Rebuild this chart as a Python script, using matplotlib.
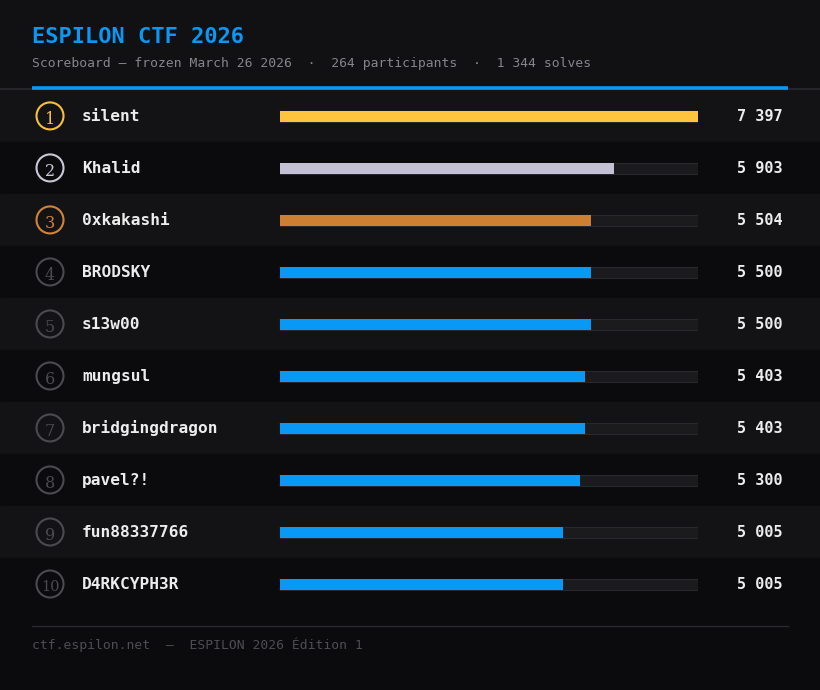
import matplotlib as mpl
mpl.use('Agg')
import matplotlib.pyplot as plt
from matplotlib.patches import Rectangle, Circle

# data
names = ['silent', 'Khalid', '0xkakashi', 'BRODSKY', 's13w00',
         'mungsul', 'bridgingdragon', 'pavel?!', 'fun88337766', 'D4RKCYPH3R']
scores = [7397, 5903, 5504, 5500, 5500, 5403, 5403, 5300, 5005, 5005]
ranks = list(range(1, 11))

title = 'ESPILON CTF 2026'
subtitle = 'Scoreboard \u2014 frozen March 26 2026  \u00b7  264 participants  \u00b7  1 344 solves'
footer = 'ctf.espilon.net  \u2014  ESPILON 2026 \u00c9dition 1'

# colours
bg_dark = '#0b0b0d'
bg_row = '#131316'
bg_head = '#111114'
blue = '#0a98f5'
medal_bar = {1: '#ffc43d', 2: '#c3c1d3', 3: '#cd7f32'}
medal_ring = {1: '#f7bf3b', 2: '#c9c8d8', 3: '#d0843a'}
grey_ring = '#4a4a50'
track = '#1b1b1e'

mono = 'DejaVu Sans Mono'

W, H = 820, 690
fig = plt.figure(figsize=(W / 100 + 0.001, H / 100 + 0.001), dpi=100)
fig.patch.set_facecolor(bg_dark)
ax = fig.add_axes([0, 0, 1, 1])
ax.set_xlim(0, W)
ax.set_ylim(H, 0)
ax.axis('off')

# header band
ax.add_patch(Rectangle((0, 0), W, 89, color=bg_head, zorder=0))
ax.plot([0, W], [89, 89], color='#26262a', lw=1.5, zorder=1)
ax.plot([32, 788], [88.5, 88.5], color=blue, lw=2.6, zorder=2, solid_capstyle='butt')
ax.text(32, 37, title, color=blue, fontsize=15.85, fontweight='bold', family=mono, va='center')
ax.text(32, 63, subtitle, color='#85858c', fontsize=9.35, family=mono, va='center')

row_h = 52
top = 90
centers = [top + row_h / 2 + row_h * i for i in range(len(names))]

for i, (r, nm, sc) in enumerate(zip(ranks, names, scores)):
    y0 = top + row_h * i
    yc = centers[i]
    ax.add_patch(Rectangle((0, y0), W, row_h, color=bg_row if i % 2 == 0 else bg_dark, zorder=0))
    ring = medal_ring.get(r, grey_ring)
    ax.add_patch(Circle((50, yc), 13.5, fill=False, ec=ring, lw=1.5, zorder=3))
    ax.text(50, yc + 3, str(r), color=ring, fontsize=11.5 if r < 10 else 10.5,
            family='DejaVu Serif', ha='center', va='center', zorder=4)
    ax.text(82, yc, nm, color='#ececec', fontsize=11.6, fontweight='bold',
            family=mono, va='center', zorder=4)
    ax.text(783, yc, f'{sc:,}'.replace(',', ' '), color='#ececec', fontsize=10.9,
            fontweight='bold', family=mono, va='center', ha='right', zorder=4)

# footer
ax.plot([32, 788], [626, 626], color='#2a2a2e', lw=1)
ax.text(32, 645, footer, color='#4d4d54', fontsize=9.35, family=mono, va='center')

# bars
axb = fig.add_axes([280 / W, 0, 418 / W, 1])
axb.set_xlim(0, max(scores))
axb.set_ylim(H - 0.6, -0.6)
axb.axis('off')
axb.patch.set_alpha(0)
axb.barh(centers, [max(scores)] * len(scores), height=11, color=track,
         edgecolor='#29292d', linewidth=0.8)
bar_cols = [medal_bar.get(r, blue) for r in ranks]
axb.barh(centers, scores, height=11, color=bar_cols, linewidth=0)

fig.savefig('out.png', dpi=100, facecolor=fig.get_facecolor())
